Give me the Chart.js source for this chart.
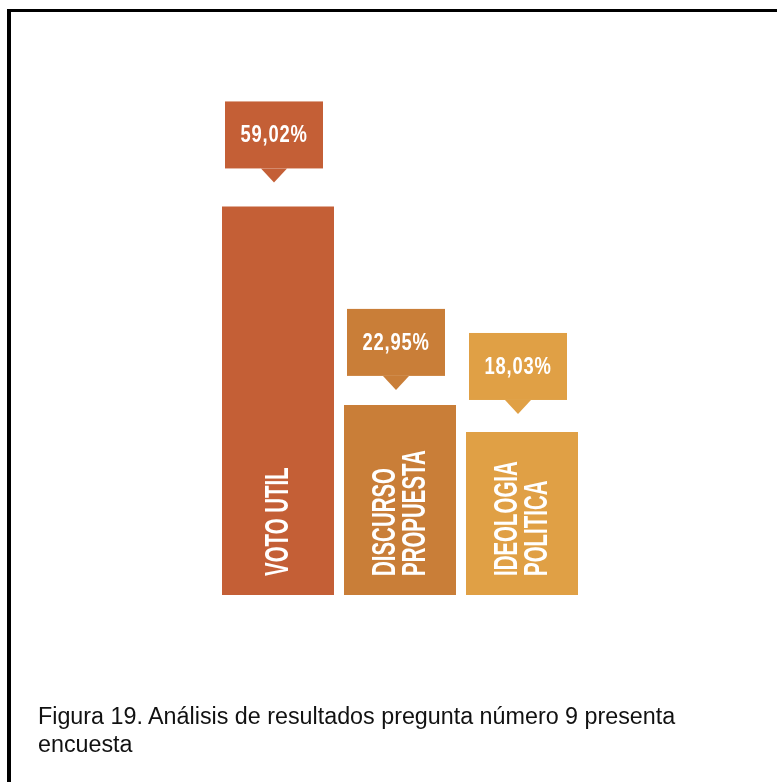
<!DOCTYPE html>
<html lang="es">
<head>
<meta charset="utf-8">
<title>Figura 19</title>
<script src="https://cdn.jsdelivr.net/npm/chart.js@4"></script>
<style>
  html, body { margin: 0; padding: 0; background: #fff; }
  body { width: 777px; height: 782px; overflow: hidden; position: relative; }
  #marco {
    position: absolute; left: 7px; top: 9px; width: 900px; height: 900px;
    border-left: 4px solid #000; border-top: 3px solid #000;
  }
  #grafica { position: absolute; left: 0; top: 0; }
  #pie {
    position: absolute; left: 38px; top: 702px; margin: 0;
    font: 23.3px "Liberation Sans", Arial, sans-serif; line-height: 28px; color: #111;
  }
</style>
</head>
<body>
<div id="marco"></div>
<canvas id="grafica" width="777" height="782"></canvas>
<p id="pie">Figura 19. Análisis de resultados pregunta número 9 presenta<br>encuesta</p>
<script>
// Datos de la pregunta 9
const categorias = [["VOTO UTIL"], ["DISCURSO", "PROPUESTA"], ["IDEOLOGIA", "POLITICA"]];
const porcentajes = [59.02, 22.95, 18.03];
const textosValor = ["59,02%", "22,95%", "18,03%"];
const colores = ["#c45f36", "#c97e38", "#e0a045"];

// el eje arranca por debajo de cero, las barras salen desde ahi
const BASE_EJE = -11.6;

// separacion entre la punta del globo y la barra
const separaciones = [24, 15, 18];

// Globo con el porcentaje encima de cada barra y nombre girado dentro
const globos = {
  id: "globos",
  afterDatasetsDraw(chart) {
    const ctx = chart.ctx;
    const meta = chart.getDatasetMeta(0);
    const abajo = chart.chartArea.bottom;
    meta.data.forEach((barra, i) => {
      const x = barra.x;
      const xg = x - 4;
      const arriba = barra.y;
      const color = colores[i];

      // caja + punta
      const ancho = 98, alto = 67, punta = 14;
      const fondo = arriba - separaciones[i] - punta;
      ctx.save();
      ctx.fillStyle = color;
      ctx.fillRect(Math.round(xg - ancho / 2), fondo - alto, ancho, alto);
      ctx.beginPath();
      ctx.moveTo(xg - 13, fondo);
      ctx.lineTo(xg + 13, fondo);
      ctx.lineTo(xg, fondo + punta);
      ctx.closePath();
      ctx.fill();

      // porcentaje
      ctx.translate(xg, fondo - alto / 2 + 1);
      ctx.scale(0.8, 1);
      ctx.fillStyle = "#fff";
      ctx.font = "bold 23px 'Liberation Sans', Arial, sans-serif";
      ctx.letterSpacing = "1px";
      ctx.textAlign = "center";
      ctx.textBaseline = "middle";
      ctx.fillText(textosValor[i], 0, 0);
      ctx.restore();

      // nombre vertical
      const lineas = categorias[i];
      ctx.save();
      ctx.translate(x, abajo - 19);
      ctx.rotate(-Math.PI / 2);
      ctx.scale(0.62, 1);
      ctx.fillStyle = "#fff";
      ctx.font = "bold 33px 'Liberation Sans', Arial, sans-serif";
      ctx.textAlign = "left";
      ctx.textBaseline = "middle";
      lineas.forEach((t, j) => {
        const dy = (j - (lineas.length - 1) / 2) * 30;
        ctx.fillText(t, 0, dy + 1);
      });
      ctx.restore();
    });
  }
};

new Chart(document.getElementById("grafica"), {
  type: "bar",
  data: {
    labels: categorias,
    datasets: [{
      data: porcentajes,
      backgroundColor: colores,
      base: BASE_EJE,
      barPercentage: 0.918,
      categoryPercentage: 1
    }]
  },
  options: {
    responsive: false,
    animation: false,
    devicePixelRatio: 1,
    layout: { padding: { left: 217, right: 194, top: 58, bottom: 187 } },
    plugins: { legend: { display: false }, tooltip: { enabled: false } },
    scales: {
      x: { display: false },
      y: { display: false, min: BASE_EJE, max: 86 }
    }
  },
  plugins: [globos]
});
</script>
</body>
</html>
